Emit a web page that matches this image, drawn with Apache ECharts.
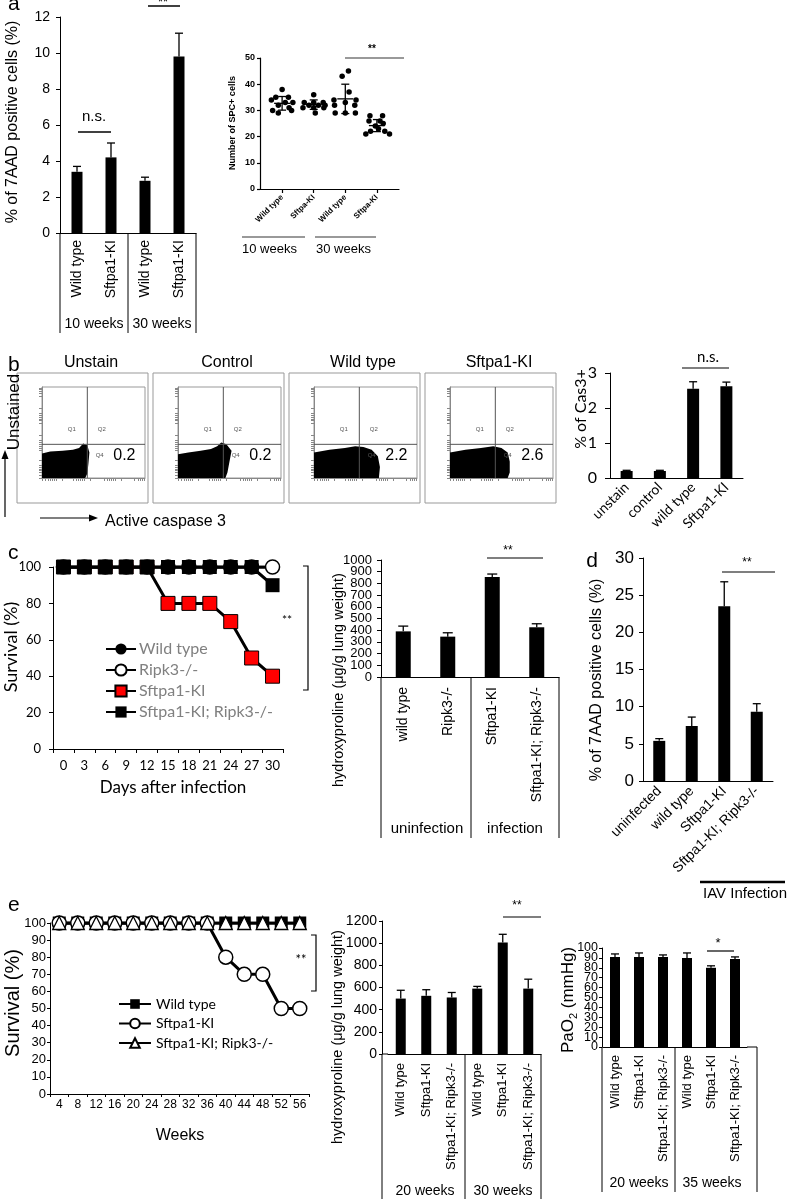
<!DOCTYPE html>
<html><head><meta charset="utf-8">
<script src="https://cdn.jsdelivr.net/npm/echarts@6/dist/echarts.min.js"></script>
<style>html,body{margin:0;padding:0;background:#fff}#c{width:795px;height:1199px}</style>
</head><body><div id="c"></div>
<script>
// ---------------- DATA ----------------
// panel a (bar)
const aCats = ['Wild type', 'Sftpa1-KI', 'Wild type', 'Sftpa1-KI'];
const aVals = [3.4, 4.2, 2.9, 9.8];
const aErrTop = [3.7, 5.0, 3.1, 11.1];
const aGroups = ['10 weeks', '30 weeks'];
// panel a (SPC+ dot plot)
const spcCats = ['Wild type', 'Sftpa-KI', 'Wild type', 'Sftpa-KI'];
const spcWT10 = [38, 35, 35, 34, 33, 33, 32, 31, 30, 29, 30];
const spcKI10 = [36, 33, 33, 33, 32, 32, 32, 31, 31, 31, 29];
const spcWT30 = [45, 43, 37, 34, 34, 33, 32, 32, 29, 29, 29];
const spcKI30 = [28, 28, 26, 26, 25, 24, 23, 22, 22, 21, 21];
const spcJitWT10 = [0, -0.2, 0.2, -0.34, 0.34, 0.1, -0.12, 0.22, -0.3, -0.12, 0.3];
const spcJitKI10 = [0, -0.3, 0.3, 0.0, -0.15, 0.15, 0.36, -0.34, 0.32, 0.0, 0.05];
const spcJitWT30 = [0.1, -0.1, 0.12, -0.36, 0.34, 0.0, -0.34, 0.3, -0.32, 0.0, 0.32];
const spcJitKI30 = [-0.22, 0.18, -0.25, 0.1, 0.2, -0.05, 0.05, -0.2, 0.25, -0.35, 0.4];
const spcMean = [32.7, 32.2, 34.4, 24.2];
const spcSD = [2.6, 1.8, 5.6, 2.3];
const spcGroups = ['10 weeks', '30 weeks'];
// panel b
const flowTitles = ['Unstain', 'Control', 'Wild type', 'Sftpa1-KI'];
const flowQ4 = ['0.2', '0.2', '2.2', '2.6'];
const cloudUnstain = [[0,0],[0,27],[8,29],[20,30],[30,31],[36,33],[40,38],[44,36],[46,28],[45,15],[44,5],[42,0]];
const cloudControl = [[0,0],[0,26],[10,28],[22,30],[32,32],[38,35],[42,39],[47,37],[52,30],[50,18],[48,6],[46,0]];
const cloudWT = [[0,0],[0,28],[15,31],[30,33],[40,35],[48,34],[56,31],[62,24],[64,12],[63,0]];
const cloudKI = [[0,0],[0,28],[15,31],[30,33],[42,35],[50,33],[56,28],[58,18],[58,6],[56,0]];
const bCats = ['unstain', 'control', 'wild type', 'Sftpa1-KI'];
const bVals = [0.2, 0.2, 2.55, 2.62];
const bErrTop = [0.22, 0.22, 2.75, 2.74];
// panel c
const cDays = ['0', '3', '6', '9', '12', '15', '18', '21', '24', '27', '30'];
const cWT = [100, 100, 100, 100, 100, 100, 100, 100, 100, 100, 100];
const cRipk3 = [100, 100, 100, 100, 100, 100, 100, 100, 100, 100, 100];
const cKI = [100, 100, 100, 100, 100, 80, 80, 80, 70, 50, 40];
const cKIRipk3 = [100, 100, 100, 100, 100, 100, 100, 100, 100, 100, 90];
const cHypCats = ['wild type', 'Ripk3-/-', 'Sftpa1-KI', 'Sftpa1-KI; Ripk3-/-'];
const cHypVals = [390, 345, 855, 425];
const cHypErrTop = [435, 378, 880, 455];
const cHypTicks = [0, 100, 200, 300, 400, 500, 600, 700, 800, 900, 1000];
const cGroups = ['uninfection', 'infection'];
// panel d
const dCats = ['uninfected', 'wild type', 'Sftpa1-KI', 'Sftpa1-KI; Ripk3-/-'];
const dVals = [5.4, 7.4, 23.5, 9.3];
const dErrTop = [5.7, 8.6, 26.8, 10.4];
// panel e
const eWeeks = ['4', '8', '12', '16', '20', '24', '28', '32', '36', '40', '44', '48', '52', '56'];
const eWT = [100, 100, 100, 100, 100, 100, 100, 100, 100, 100, 100, 100, 100, 100];
const eKI = [100, 100, 100, 100, 100, 100, 100, 100, 100, 80, 70, 70, 50, 50];
const eKIRipk3 = [100, 100, 100, 100, 100, 100, 100, 100, 100, 100, 100, 100, 100, 100];
const eHypCats = ['Wild type', 'Sftpa1-KI', 'Sftpa1-KI; Ripk3-/-', 'Wild type', 'Sftpa1-KI', 'Sftpa1-KI; Ripk3-/-'];
const eHypVals = [500, 525, 510, 590, 1005, 590];
const eHypErrTop = [575, 580, 555, 610, 1080, 675];
const eHypGroups = ['20 weeks', '30 weeks'];
const ePaCats = ['Wild type', 'Sftpa1-KI', 'Sftpa1-KI; Ripk3-/-', 'Wild type', 'Sftpa1-KI', 'Sftpa1-KI; Ripk3-/-'];
const ePaVals = [91, 91, 91, 90, 80, 89];
const ePaErrTop = [94, 95, 93, 95, 82, 91];
const ePaTicks = [0, 10, 20, 30, 40, 50, 60, 70, 80, 90, 100];
const ePaGroups = ['20 weeks', '35 weeks'];

// ---------------- BUILD ----------------
const AR = '"Liberation Sans", Arial, sans-serif';
const CAL = 'Lato, "Open Sans", sans-serif';
const grid = [], xAxis = [], yAxis = [], series = [], G = [];
const plain = v => String(v);

function T(text, x, y, o = {}) {
  G.push({type: 'text', x, y, rotation: o.rot || 0, silent: true, z: 10,
    style: {text, fill: o.color || '#000', fontSize: o.size || 14, fontFamily: o.font || AR,
      fontWeight: o.weight || 'normal', align: o.align || 'center', verticalAlign: o.va || 'middle', rich: o.rich}});
}
function L(x1, y1, x2, y2, o = {}) {
  G.push({type: 'line', silent: true, z: 10, shape: {x1, y1, x2, y2}, style: {stroke: o.color || '#000', lineWidth: o.w || 1}});
}
function PL(points, o = {}) {
  G.push({type: 'polyline', silent: true, z: 10, shape: {points}, style: {stroke: o.color || '#000', lineWidth: o.w || 1, fill: null}});
}
function TRI(points) {
  G.push({type: 'polygon', silent: true, z: 10, shape: {points}, style: {fill: '#000'}});
}

function errRender(cap, lw) {
  return function (p, api) {
    const b = api.coord([api.value(0), api.value(1)]);
    const t = api.coord([api.value(0), api.value(2)]);
    return {type: 'group', children: [
      {type: 'line', shape: {x1: b[0], y1: b[1], x2: t[0], y2: t[1]}, style: {stroke: '#000', lineWidth: lw}},
      {type: 'line', shape: {x1: t[0] - cap, y1: t[1], x2: t[0] + cap, y2: t[1]}, style: {stroke: '#000', lineWidth: lw}}
    ]};
  };
}

function barPanel(c) {
  const gi = grid.length, xi = xAxis.length, yi = yAxis.length;
  grid.push({left: c.left, top: c.top, width: c.width, height: c.height});
  xAxis.push({gridIndex: gi, type: 'category', data: c.cats,
    axisLine: {lineStyle: {color: '#000', width: 1}}, axisTick: {show: false},
    axisLabel: {interval: 0, rotate: c.rotate, margin: c.xMargin, fontSize: c.xFont, color: '#000', fontFamily: c.font || AR},
    splitLine: {show: false}});
  const lab = {fontSize: c.yFont, color: '#000', fontFamily: c.font || AR, margin: c.yMargin, hideOverlap: false,
    showMinLabel: true, showMaxLabel: true, formatter: plain};
  if (c.ticks) {
    // dense tick labels: split over two overlaid axes so none gets dropped
    const even = c.ticks.filter((v, i) => i % 2 === 0), odd = c.ticks.filter((v, i) => i % 2 === 1);
    yAxis.push({gridIndex: gi, type: 'value', min: 0, max: c.max, interval: c.interval, offset: c.yOffset || 0,
      axisLine: {show: true, lineStyle: {color: '#000', width: 1}},
      axisTick: {show: true, length: c.tickLen || 4, lineStyle: {color: '#000'}},
      axisLabel: Object.assign({}, lab, {customValues: even}), splitLine: {show: false}});
    yAxis.push({gridIndex: gi, type: 'value', min: 0, max: c.max, interval: c.interval, offset: c.yOffset || 0, position: 'left',
      axisLine: {show: false}, axisTick: {show: false},
      axisLabel: Object.assign({}, lab, {customValues: odd}), splitLine: {show: false}});
  } else {
    yAxis.push({gridIndex: gi, type: 'value', min: 0, max: c.max, interval: c.interval, offset: c.yOffset || 0,
      axisLine: {show: true, lineStyle: {color: '#000', width: 1}},
      axisTick: {show: true, length: c.tickLen || 4, lineStyle: {color: '#000'}},
      axisLabel: lab, splitLine: {show: false}});
  }
  series.push({type: 'bar', xAxisIndex: xi, yAxisIndex: yi, data: c.vals, barWidth: c.barWidth,
    itemStyle: {color: '#000'}, silent: true});
  series.push({type: 'custom', xAxisIndex: xi, yAxisIndex: yi, z: 3, silent: true,
    data: c.errs.map((e, i) => [i, c.vals[i], e]), renderItem: errRender(c.cap, 1.3)});
}

// ---- panel a: bar
barPanel({left: 60, top: 17, width: 136, height: 216, cats: aCats, vals: aVals, errs: aErrTop,
  max: 12, interval: 2, barWidth: 11, cap: 4, rotate: 90, xMargin: 7, xFont: 14, yFont: 14, yMargin: 10});
T('a', 8, 4, {size: 21, align: 'left'});
T('% of 7AAD positive cells (%)', 13, 122, {size: 16, rot: Math.PI / 2});
L(60, 233, 60, 333); L(128, 233, 128, 333); L(196, 233, 196, 333);
T(aGroups[0], 94, 324, {size: 14}); T(aGroups[1], 162, 324, {size: 14});
T('n.s.', 94, 117, {size: 15}); L(78, 132, 111, 132, {w: 1.5});
T('**', 163, 2, {size: 13}); L(148, 6, 180, 6, {w: 1.5});

// ---- panel a: SPC+ dot plot
(function () {
  const gi = grid.length, xi = xAxis.length, yi = yAxis.length;
  grid.push({left: 260, top: 58, width: 139, height: 131});
  xAxis.push({gridIndex: gi, type: 'value', min: 0.3, max: 4.7,
    axisLine: {lineStyle: {color: '#000', width: 1.2}},
    axisTick: {show: true, length: 4, customValues: [1, 2, 3, 4], lineStyle: {color: '#000', width: 1.2}},
    axisLabel: {customValues: [1, 2, 3, 4], formatter: v => spcCats[Math.round(v) - 1], rotate: 45, margin: 7,
      fontSize: 8, fontWeight: 'bold', color: '#000', fontFamily: AR},
    splitLine: {show: false}});
  yAxis.push({gridIndex: gi, type: 'value', min: 0, max: 50, interval: 10,
    axisLine: {show: true, lineStyle: {color: '#000', width: 1.2}},
    axisTick: {show: true, length: 3, lineStyle: {color: '#000', width: 1.2}},
    axisLabel: {fontSize: 9, fontWeight: 'bold', color: '#000', fontFamily: AR, margin: 5, showMinLabel: true, showMaxLabel: true},
    splitLine: {show: false}});
  const groups = [[spcWT10, spcJitWT10], [spcKI10, spcJitKI10], [spcWT30, spcJitWT30], [spcKI30, spcJitKI30]];
  groups.forEach((g, k) => {
    series.push({type: 'scatter', xAxisIndex: xi, yAxisIndex: yi, symbolSize: 5.5, itemStyle: {color: '#000', opacity: 1},
      silent: true, data: g[0].map((v, i) => [k + 1 + g[1][i], v])});
  });
  series.push({type: 'custom', xAxisIndex: xi, yAxisIndex: yi, z: 4, silent: true,
    data: spcMean.map((m, i) => [i + 1, m, spcSD[i]]),
    renderItem: function (p, api) {
      const x = api.value(0), m = api.value(1), s = api.value(2);
      const c = api.coord([x, m]), hi = api.coord([x, m + s]), lo = api.coord([x, m - s]);
      const st = {stroke: '#000', lineWidth: 1.3};
      return {type: 'group', children: [
        {type: 'line', shape: {x1: c[0] - 8, y1: c[1], x2: c[0] + 8, y2: c[1]}, style: st},
        {type: 'line', shape: {x1: hi[0], y1: hi[1], x2: lo[0], y2: lo[1]}, style: st},
        {type: 'line', shape: {x1: hi[0] - 4, y1: hi[1], x2: hi[0] + 4, y2: hi[1]}, style: st},
        {type: 'line', shape: {x1: lo[0] - 4, y1: lo[1], x2: lo[0] + 4, y2: lo[1]}, style: st}
      ]};
    }});
})();
T('Number of SPC+ cells', 233, 123, {size: 9, weight: 'bold', rot: Math.PI / 2});
T('**', 372, 49, {size: 10, weight: 'bold'}); L(345, 58, 404, 58, {color: '#777', w: 1.5});
L(242, 237, 305, 237, {color: '#999', w: 2}); L(315, 237, 376, 237, {color: '#999', w: 2});
T(spcGroups[0], 242, 249, {size: 13, align: 'left'}); T(spcGroups[1], 316, 249, {size: 13, align: 'left'});

// ---- panel b: flow plots
const clouds = [cloudUnstain, cloudControl, cloudWT, cloudKI];
const flowTicks = [0, 3, 6, 8, 10, 12, 14, 20, 30, 33, 35, 37, 39, 41, 47, 60, 63, 65, 67, 69, 71, 77, 90, 93, 95, 97, 99];
T('b', 8, 365, {size: 21, align: 'left'});
flowTitles.forEach((t, k) => {
  const bx = 17 + 136 * k;
  G.push({type: 'rect', silent: true, z: 1, shape: {x: bx, y: 373, width: 131, height: 130}, style: {fill: null, stroke: '#999', lineWidth: 1}});
  T(t, bx + 74, 363, {size: 16});
  const gi = grid.length, xi = xAxis.length, yi = yAxis.length;
  grid.push({left: bx + 25, top: 387, width: 103, height: 91, show: true, borderColor: '#999', borderWidth: 1});
  xAxis.push({gridIndex: gi, type: 'value', min: 0, max: 100, axisLine: {show: true, lineStyle: {color: '#888'}},
    axisTick: {show: true, length: 3, customValues: flowTicks, lineStyle: {color: '#888'}}, axisLabel: {show: false}, splitLine: {show: false}});
  yAxis.push({gridIndex: gi, type: 'value', min: 0, max: 100, axisLine: {show: true, lineStyle: {color: '#888'}},
    axisTick: {show: true, length: 3, customValues: flowTicks, lineStyle: {color: '#888'}}, axisLabel: {show: false}, splitLine: {show: false}});
  const cloud = clouds[k], q4 = flowQ4[k];
  series.push({type: 'custom', xAxisIndex: xi, yAxisIndex: yi, silent: true, data: [[0, 0]],
    renderItem: function (p, api) {
      const pts = cloud.map(pt => api.coord(pt));
      const v0 = api.coord([44, 0]), v1 = api.coord([44, 100]);
      const h0 = api.coord([0, 37]), h1 = api.coord([100, 37]);
      const q1 = api.coord([29, 53]), q2 = api.coord([58, 53]), q4p = api.coord([56, 25]), val = api.coord([80, 25]);
      const small = {fill: '#555', fontSize: 6, fontFamily: AR, align: 'center', verticalAlign: 'middle'};
      return {type: 'group', children: [
        {type: 'polygon', shape: {points: pts}, style: {fill: '#000'}},
        {type: 'line', shape: {x1: v0[0], y1: v0[1], x2: v1[0], y2: v1[1]}, style: {stroke: '#555', lineWidth: 1}},
        {type: 'line', shape: {x1: h0[0], y1: h0[1], x2: h1[0], y2: h1[1]}, style: {stroke: '#555', lineWidth: 1}},
        {type: 'text', x: q1[0], y: q1[1], style: Object.assign({text: 'Q1'}, small)},
        {type: 'text', x: q2[0], y: q2[1], style: Object.assign({text: 'Q2'}, small)},
        {type: 'text', x: q4p[0], y: q4p[1], style: Object.assign({text: 'Q4'}, small)},
        {type: 'text', x: val[0], y: val[1], style: {text: q4, fill: '#000', fontSize: 16, fontFamily: AR, align: 'center', verticalAlign: 'middle'}}
      ]};
    }});
});
T('Unstained', 14, 412, {size: 17, rot: Math.PI / 2});
L(5, 517, 5, 458, {w: 1.2}); TRI([[5, 450], [1.5, 459], [8.5, 459]]);
L(40, 518, 90, 518, {w: 1.2}); TRI([[98, 518], [89, 514.5], [89, 521.5]]);
T('Active caspase 3', 105, 522, {size: 16, align: 'left'});

// ---- panel b: bar
barPanel({left: 610, top: 373, width: 133, height: 105, cats: bCats, vals: bVals, errs: bErrTop,
  max: 3, interval: 1, barWidth: 12, cap: 4, rotate: 45, xMargin: 7, xFont: 14, yFont: 16, yMargin: 13, tickLen: 5, font: CAL});
T('% of Cas3+', 581, 409, {size: 16, rot: Math.PI / 2, font: CAL});
T('n.s.', 708, 357, {size: 15, font: CAL}); L(682, 368, 729, 368, {w: 1.2});

// ---- panel c: survival
(function () {
  const gi = grid.length, xi = xAxis.length, yi = yAxis.length;
  grid.push({left: 53, top: 567, width: 230, height: 182});
  xAxis.push({gridIndex: gi, type: 'category', data: cDays, boundaryGap: true,
    axisLine: {lineStyle: {color: '#000', width: 1}}, axisTick: {show: true, length: 4, lineStyle: {color: '#000'}},
    axisLabel: {interval: 0, fontSize: 13, color: '#000', fontFamily: CAL, margin: 10}, splitLine: {show: false}});
  yAxis.push({gridIndex: gi, type: 'value', min: 0, max: 100, interval: 20,
    axisLine: {show: true, lineStyle: {color: '#000'}}, axisTick: {show: true, length: 4, lineStyle: {color: '#000'}},
    axisLabel: {fontSize: 13, color: '#000', fontFamily: CAL, margin: 12, showMinLabel: true, showMaxLabel: true}, splitLine: {show: false}});
  const base = {type: 'line', xAxisIndex: xi, yAxisIndex: yi, silent: true, lineStyle: {color: '#000', width: 3}};
  series.push(Object.assign({}, base, {name: 'Wild type', data: cWT, symbol: 'circle', symbolSize: 12, itemStyle: {color: '#000'}}));
  series.push(Object.assign({}, base, {name: 'Ripk3-/-', data: cRipk3, symbol: 'circle', symbolSize: 14, itemStyle: {color: '#fff', borderColor: '#000', borderWidth: 1.5}}));
  series.push(Object.assign({}, base, {name: 'Sftpa1-KI', data: cKI, symbol: 'rect', symbolSize: 14, itemStyle: {color: '#ff0000', borderColor: '#000', borderWidth: 1}}));
  series.push(Object.assign({}, base, {name: 'Sftpa1-KI; Ripk3-/-', data: cKIRipk3, symbol: 'rect', symbolSize: 14, itemStyle: {color: '#000'}}));
})();
T('c', 8, 553, {size: 21, align: 'left'});
T('Survival (%)', 11, 647, {size: 18, rot: Math.PI / 2, font: CAL});
T('Days after infection', 173, 788, {size: 17, font: CAL});
PL([[303, 566], [308, 566], [308, 690], [303, 690]], {w: 1.2});
T('**', 287, 620, {size: 12, font: CAL});

// ---- panel c: hydroxyproline
barPanel({left: 381, top: 560, width: 178, height: 117, cats: cHypCats, vals: cHypVals, errs: cHypErrTop,
  max: 1000, interval: 100, barWidth: 15, cap: 5, rotate: 90, xMargin: 10, xFont: 14, yFont: 13, yMargin: 9, ticks: cHypTicks});
T('hydroxyproline (μg/g lung weight)', 339, 680, {size: 14.5, rot: Math.PI / 2});
L(381, 677, 381, 838); L(471, 677, 471, 838); L(559, 677, 559, 838);
T(cGroups[0], 427, 829, {size: 15}); T(cGroups[1], 515, 829, {size: 15});
T('**', 508, 551, {size: 12}); L(487, 558, 543, 558, {w: 1.2});

// ---- panel d
barPanel({left: 643, top: 558, width: 130, height: 223, cats: dCats, vals: dVals, errs: dErrTop,
  max: 30, interval: 5, barWidth: 12, cap: 4, rotate: 45, xMargin: 8, xFont: 14, yFont: 17, yMargin: 9});
T('d', 592, 561, {size: 21});
T('% of 7AAD positive cells (%)', 597, 680, {size: 16, rot: Math.PI / 2});
T('**', 747, 563, {size: 12}); L(722, 572, 775, 572, {w: 1.2});
L(700, 882, 785, 882, {w: 2.5});
T('IAV Infection', 745, 894, {size: 15});

// ---- panel e: survival
(function () {
  const gi = grid.length, xi = xAxis.length, yi = yAxis.length;
  grid.push({left: 50, top: 923, width: 259, height: 171});
  xAxis.push({gridIndex: gi, type: 'category', data: eWeeks, boundaryGap: true,
    axisLine: {lineStyle: {color: '#000', width: 1}}, axisTick: {show: true, length: 3, lineStyle: {color: '#000'}},
    axisLabel: {interval: 0, fontSize: 12, color: '#000', fontFamily: AR, margin: 5}, splitLine: {show: false}});
  yAxis.push({gridIndex: gi, type: 'value', min: 0, max: 100, interval: 10,
    axisLine: {show: true, lineStyle: {color: '#000'}}, axisTick: {show: true, length: 3, lineStyle: {color: '#000'}},
    axisLabel: {fontSize: 13, color: '#000', fontFamily: AR, margin: 4, hideOverlap: false, showMinLabel: true, showMaxLabel: true}, splitLine: {show: false}});
  const base = {type: 'line', xAxisIndex: xi, yAxisIndex: yi, silent: true, lineStyle: {color: '#000', width: 3}};
  series.push(Object.assign({}, base, {name: 'e_Wild type', data: eWT, symbol: 'rect', symbolSize: 13, itemStyle: {color: '#000'}}));
  series.push(Object.assign({}, base, {name: 'e_Sftpa1-KI', data: eKI, symbol: 'circle', symbolSize: 14, itemStyle: {color: '#fff', borderColor: '#000', borderWidth: 1.5}}));
  series.push(Object.assign({}, base, {name: 'e_Sftpa1-KI; Ripk3-/-', data: eKIRipk3, symbol: 'triangle', symbolSize: 13, itemStyle: {color: '#fff', borderColor: '#000', borderWidth: 1.3}}));
})();
T('e', 8, 905, {size: 21, align: 'left'});
T('Survival (%)', 13, 1003, {size: 20, rot: Math.PI / 2});
T('Weeks', 180, 1136, {size: 16});
PL([[311, 935], [316, 935], [316, 991], [311, 991]], {w: 1.2});
T('**', 301, 960, {size: 13, font: CAL});

// ---- panel e: hydroxyproline
barPanel({left: 388, top: 921, width: 153, height: 133, cats: eHypCats, vals: eHypVals, errs: eHypErrTop,
  max: 1200, interval: 200, barWidth: 10, cap: 4, rotate: 90, xMargin: 9, xFont: 13, yFont: 14, yMargin: 5, yOffset: 6, tickLen: 3});
L(382, 1054, 388, 1054);
T('hydroxyproline (μg/g lung weight)', 338, 1037, {size: 14.5, rot: Math.PI / 2});
L(382, 1054, 382, 1199); L(465, 1054, 465, 1199); L(541, 1054, 541, 1199);
T(eHypGroups[0], 425, 1191, {size: 14}); T(eHypGroups[1], 503, 1191, {size: 14});
T('**', 517, 906, {size: 12}); L(503, 917, 541, 917, {w: 1.2});

// ---- panel e: PaO2
barPanel({left: 603, top: 948, width: 144, height: 99, cats: ePaCats, vals: ePaVals, errs: ePaErrTop,
  max: 100, interval: 10, barWidth: 10, cap: 4, rotate: 90, xMargin: 8, xFont: 13, yFont: 12.5, yMargin: 4, yOffset: 1, tickLen: 3, ticks: ePaTicks});
L(747, 1047, 757, 1047);
T('{a|PaO}{s|2}{a| (mmHg)}', 568, 1000, {size: 17, rot: Math.PI / 2,
  rich: {a: {fontSize: 17, fontFamily: AR, lineHeight: 22, verticalAlign: 'middle'}, s: {fontSize: 11, fontFamily: AR, lineHeight: 22, verticalAlign: 'bottom'}}});
L(602, 1047, 602, 1192); L(675, 1047, 675, 1192); L(757, 1047, 757, 1192);
T(ePaGroups[0], 639, 1183, {size: 14}); T(ePaGroups[1], 712, 1183, {size: 14});
T('*', 718, 943, {size: 13}); L(707, 951, 734, 951, {w: 1.2});

const chart = echarts.init(document.getElementById('c'), null, {renderer: 'canvas'});
chart.setOption({
  animation: false,
  backgroundColor: '#fff',
  grid, xAxis, yAxis, series,
  legend: [
    {data: ['Wild type', 'Ripk3-/-', 'Sftpa1-KI', 'Sftpa1-KI; Ripk3-/-'], orient: 'vertical', left: 100, top: 636,
      itemWidth: 30, itemHeight: 14, itemGap: 5, selectedMode: false,
      textStyle: {color: '#808080', fontSize: 16, fontFamily: CAL, padding: [0, 0, 0, -2]}},
    {data: ['e_Wild type', 'e_Sftpa1-KI', 'e_Sftpa1-KI; Ripk3-/-'], orient: 'vertical', left: 113, top: 992,
      itemWidth: 32, itemHeight: 12, itemGap: 5.5, selectedMode: false, formatter: n => n.replace(/^e_/, ''),
      textStyle: {color: '#000', fontSize: 14, fontFamily: CAL}}
  ],
  graphic: G
});
</script></body></html>
